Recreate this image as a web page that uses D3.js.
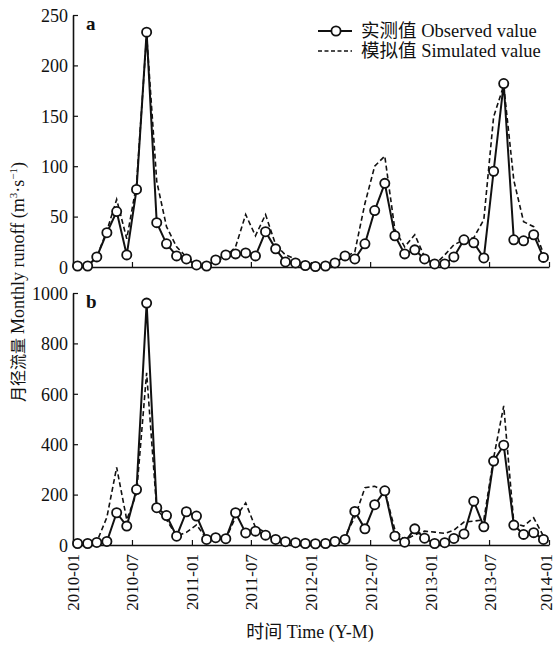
<!DOCTYPE html>
<html>
<head>
<meta charset="utf-8">
<script src="https://cdn.jsdelivr.net/npm/d3@7"></script>
<style>
  body { margin: 0; background: #fff; }
  svg text { font-family: "Liberation Serif", "Times New Roman", "Noto Sans CJK SC", serif; fill: #111; }
</style>
</head>
<body>
<div class="canvas"></div>
<script>
// months 2010-01 .. 2013-12
const months = d3.timeMonth.range(new Date(2010, 0, 1), new Date(2014, 0, 1))

// panel a
const obsA = [1, 1, 10, 34, 55, 12, 77, 233, 44, 23, 11, 8,
    2, 1, 7, 12, 13, 14, 11, 35, 18, 5, 4, 1.5,
    0.5, 1, 4, 11, 8, 23, 56, 83, 31, 13, 17, 8,
    3, 3, 10, 27, 24, 9, 95, 182, 27, 26, 32, 9.5]
const simA = [1, 1, 10, 36, 67, 28, 82, 230, 85, 40, 20, 10,
    4, 2, 6, 10, 20, 52, 31, 52, 22, 12, 8, 4,
    2, 2, 5, 10, 15, 63, 100, 110, 37, 20, 32, 10,
    2, 12, 22, 27, 29, 47, 149, 180, 86, 45, 40, 13]

// panel b
const obsB = [6, 6, 10, 14, 128, 75, 220, 960, 148, 117, 35, 132,
    115, 22, 29, 25, 128, 48, 55, 39, 22, 13, 9, 6,
    5, 6, 14, 22, 133, 64, 160, 215, 35, 11, 64, 27,
    6, 9, 26, 44, 174, 72, 333, 396, 79, 42, 49, 22]
const simB = [6, 6, 12, 110, 308, 100, 205, 683, 140, 100, 35, 50,
    80, 25, 25, 25, 110, 167, 70, 50, 20, 12, 8, 5,
    5, 5, 14, 35, 110, 227, 233, 215, 60, 20, 40, 55,
    51, 46, 59, 91, 95, 100, 345, 552, 88, 75, 108, 35]

const yTicksA = [0, 50, 100, 150, 200, 250]
const yTicksB = [0, 200, 400, 600, 800, 1000]

const width = 555, height = 645
const left = 73, right = 549

const svg = d3.select('.canvas')
    .append('svg')
    .attr('width', width)
    .attr('height', height)

const x = d3.scaleTime()
    .domain([new Date(2010, 0, 1), new Date(2014, 0, 1)])
    .range([left, right])

// plot a point in the middle of its month
const mid = m => x(d3.timeDay.offset(m, 14))

const drawPanel = (top, bottom, ticks, obs, sim, tag, showDates) => {
    const y = d3.scaleLinear()
        .domain([0, ticks[ticks.length - 1]])
        .range([bottom, top])

    const g = svg.append('g')

    // y axis, ticks pointing inward
    const yAxis = g.append('g')
        .attr('transform', `translate(${left}, 0)`)
        .call(d3.axisRight(y).tickValues(ticks).tickSize(5).tickSizeOuter(0).tickFormat(d3.format('d')))
    yAxis.select('.domain').attr('stroke', '#111').attr('stroke-width', 1.6)
    yAxis.selectAll('.tick line').attr('stroke', '#111').attr('stroke-width', 1.2)
    yAxis.selectAll('.tick text')
        .attr('x', -5)
        .attr('text-anchor', 'end')
        .attr('dy', '0.35em')
        .style('font-size', '18px')

    // x axis, ticks pointing up
    const xAxis = g.append('g')
        .attr('transform', `translate(0, ${bottom})`)
        .call(d3.axisTop(x).ticks(d3.timeMonth.every(6)).tickSize(5).tickSizeOuter(0).tickFormat(d3.timeFormat('%Y-%m')))
    xAxis.select('.domain').attr('stroke', '#111').attr('stroke-width', 1.6)
    xAxis.selectAll('.tick line').attr('stroke', '#111').attr('stroke-width', 1.2)
    if (showDates) {
        const n = xAxis.selectAll('.tick text').size()
        xAxis.selectAll('.tick text')
            .attr('transform', 'rotate(-90)')
            .attr('x', -9)
            .attr('y', (d, i) => i === n - 1 ? -3 : 0)
            .attr('dy', '0.35em')
            .attr('text-anchor', 'end')
            .style('font-size', '17px')
    } else {
        xAxis.selectAll('.tick text').remove()
    }

    // simulated, dashed
    g.append('path')
        .datum(sim)
        .attr('fill', 'none')
        .attr('stroke', '#111')
        .attr('stroke-width', 1.6)
        .attr('stroke-dasharray', '5,3')
        .attr('d', d3.line().x((d, i) => mid(months[i])).y(d => y(d)))

    // observed, solid with circles
    g.append('path')
        .datum(obs)
        .attr('fill', 'none')
        .attr('stroke', '#111')
        .attr('stroke-width', 2)
        .attr('d', d3.line().x((d, i) => mid(months[i])).y(d => y(d)))

    g.selectAll('circle')
        .data(obs).enter()
        .append('circle')
        .attr('cx', (d, i) => mid(months[i]))
        .attr('cy', d => y(d))
        .attr('r', 4.6)
        .attr('fill', '#fff')
        .attr('stroke', '#111')
        .attr('stroke-width', 1.8)

    g.append('text')
        .attr('x', 86)
        .attr('y', top + 15)
        .style('font-size', '19px')
        .style('font-weight', 'bold')
        .text(tag)
}

drawPanel(15, 267, yTicksA, obsA, simA, 'a', false)
drawPanel(293, 545, yTicksB, obsB, simB, 'b', true)

// legend
const legend = svg.append('g')
legend.append('line')
    .attr('x1', 318).attr('x2', 352).attr('y1', 31).attr('y2', 31)
    .attr('stroke', '#111').attr('stroke-width', 2)
legend.append('circle')
    .attr('cx', 336).attr('cy', 31).attr('r', 4.6)
    .attr('fill', '#fff').attr('stroke', '#111').attr('stroke-width', 1.8)
legend.append('line')
    .attr('x1', 318).attr('x2', 352).attr('y1', 51).attr('y2', 51)
    .attr('stroke', '#111').attr('stroke-width', 1.6).attr('stroke-dasharray', '4,2.5')
legend.append('text')
    .attr('x', 361).attr('y', 37)
    .style('font-size', '18.5px')
    .text('实测值 Observed value')
legend.append('text')
    .attr('x', 361).attr('y', 57)
    .style('font-size', '18.5px')
    .text('模拟值 Simulated value')

// axis titles
svg.append('text')
    .attr('x', 310)
    .attr('y', 638)
    .attr('text-anchor', 'middle')
    .style('font-size', '18px')
    .text('时间 Time (Y-M)')

const yTitle = svg.append('text')
    .attr('transform', 'translate(24, 282) rotate(-90)')
    .attr('text-anchor', 'middle')
    .style('font-size', '18px')
yTitle.append('tspan').style('font-size', '16px').text('月径流量 ')
yTitle.append('tspan').text('Monthly runoff (m')
yTitle.append('tspan').attr('dy', -7).style('font-size', '11px').text('3')
yTitle.append('tspan').attr('dy', 7).text('·s')
yTitle.append('tspan').attr('dy', -7).style('font-size', '11px').text('−1')
yTitle.append('tspan').attr('dy', 7).text(')')
</script>
</body>
</html>
